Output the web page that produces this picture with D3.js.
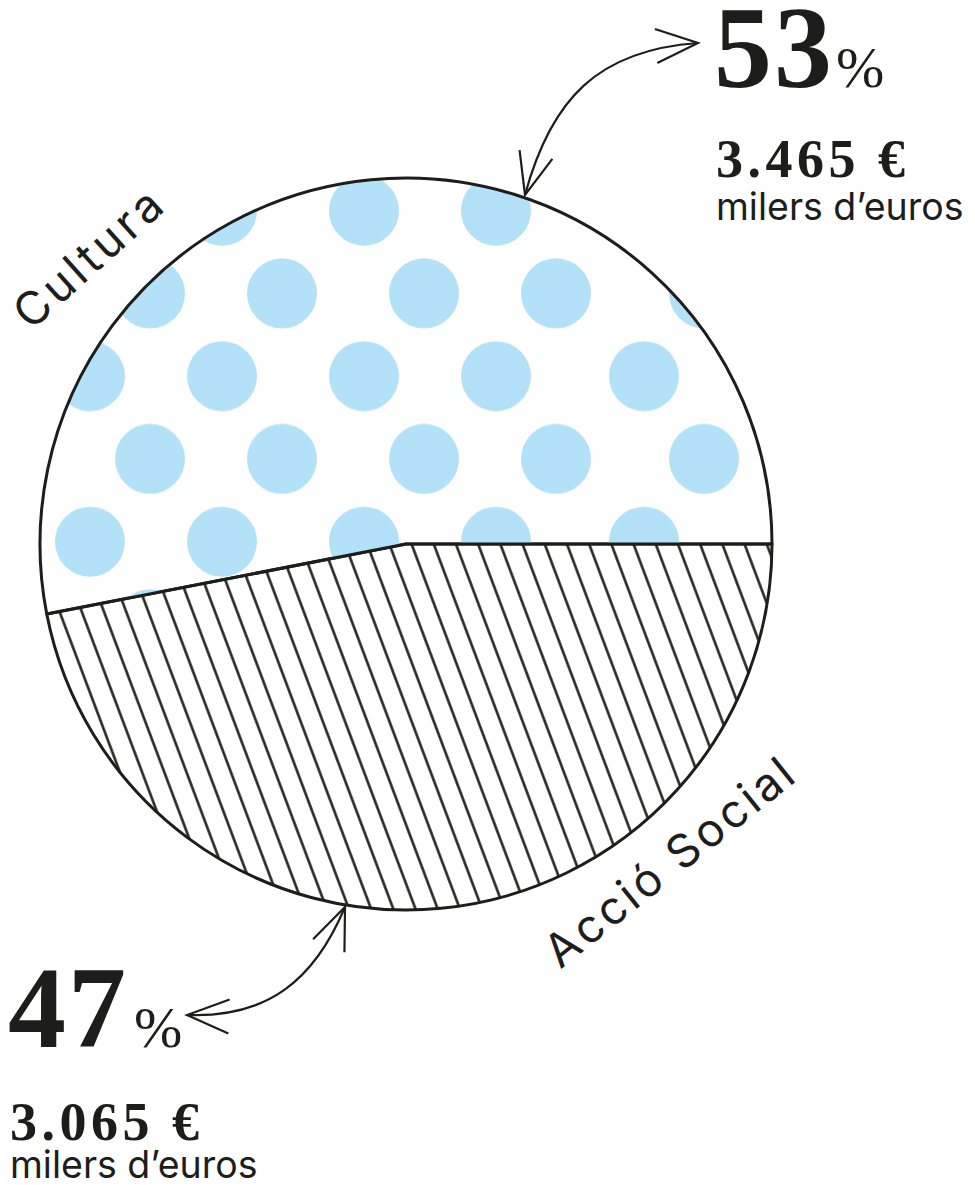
<!DOCTYPE html>
<html>
<head>
<meta charset="utf-8">
<script src="https://cdn.jsdelivr.net/npm/d3@7"></script>
<style>
    body { margin: 0; background: #fff; }
    .label { font-family: Inter, "Noto Sans", sans-serif; fill: #1d1d1b; }
    .big { font-family: "Liberation Serif", serif; font-weight: bold; fill: #1d1d1b; }
    .pct { font-family: "Liberation Serif", serif; fill: #1d1d1b; }
</style>
</head>
<body>
<script>
//chart data
var categories = ["Cultura", "Acció Social"];
var amounts = [3465, 3065]; //milers d'euros
var percents = [53, 47];
var amountLabels = ["3.465 €", "3.065 €"];
var unitLabel = "milers d’euros";

var w = 975, h = 1185;
var cx = 406, cy = 544, r = 366;
var ink = "#1d1d1b";

var svg = d3.select("body")
    .append("svg")
    .attr("width", w)
    .attr("height", h);

var defs = svg.append("defs");

//dot pattern for Cultura (coords are in the slice group's space, so shift by the centre)
//one wide tile, two staggered rows of dots, repeated vertically
var dotCols = [0, 132, 274, 406, 554];
var dotRows = [{y: 41.4, dx: 40}, {y: 124.1, dx: 100}];
var dotPts = [];
dotRows.forEach(function(row){
    dotCols.forEach(function(c){ dotPts.push([c + row.dx, row.y]); });
});

var dots = defs.append("pattern")
    .attr("id", "dots")
    .attr("patternUnits", "userSpaceOnUse")
    .attr("x", 50 - cx)
    .attr("y", 169.3 - cy)
    .attr("width", 800)
    .attr("height", 165.5);

dots.selectAll("circle")
    .data(dotPts)
    .enter()
    .append("circle")
    .attr("cx", function(d){ return d[0]; })
    .attr("cy", function(d){ return d[1]; })
    .attr("r", 35)
    .style("fill", "#b3e1f8");

//hatch pattern for Acció Social
var hw = 20.78;
var hatch = defs.append("pattern")
    .attr("id", "hatch")
    .attr("patternUnits", "userSpaceOnUse")
    .attr("width", hw)
    .attr("height", 10)
    .attr("patternTransform", "translate(" + (600.6 - cx) + "," + (545 - cy) + ") rotate(-20.6)");

hatch.append("line")
    .attr("x1", hw / 2)
    .attr("x2", hw / 2)
    .attr("y1", -1)
    .attr("y2", 11)
    .style("stroke", ink)
    .style("stroke-width", 2.5);

//pie, Acció Social first so it runs clockwise from 3 o'clock
var pie = d3.pie()
    .sort(null)
    .value(function(i){ return amounts[i]; })
    .startAngle(Math.PI / 2)
    .endAngle(Math.PI * 2.5);

var arc = d3.arc()
    .innerRadius(0)
    .outerRadius(r);

var slices = svg.append("g")
    .attr("class", "slices")
    .attr("transform", "translate(" + cx + "," + cy + ")")
    .selectAll("path")
    .data(pie([1, 0]))
    .enter()
    .append("path")
    .attr("d", arc)
    .style("fill", function(d){ return d.data === 0 ? "url(#dots)" : "url(#hatch)"; })
    .style("stroke", ink)
    .style("stroke-width", 3)
    .style("stroke-linejoin", "round");

//category labels
var labelPos = [
    {x: 89, y: 257, rot: -42, ls: 4},
    {x: 670, y: 861, rot: -38.6, ls: 3.3}
];

svg.selectAll(".catLabel")
    .data(categories)
    .enter()
    .append("text")
    .attr("class", "label catLabel")
    .attr("text-anchor", "middle")
    .attr("transform", function(d, i){
        return "translate(" + labelPos[i].x + "," + labelPos[i].y + ") rotate(" + labelPos[i].rot + ")";
    })
    .attr("dy", "0.36em")
    .style("font-size", "46px")
    .style("letter-spacing", function(d, i){ return labelPos[i].ls + "px"; })
    .text(function(d){ return d; });

//arrows
var marker = defs.append("marker")
    .attr("id", "head")
    .attr("markerUnits", "userSpaceOnUse")
    .attr("orient", "auto-start-reverse")
    .attr("overflow", "visible")
    .attr("markerWidth", 1)
    .attr("markerHeight", 1)
    .attr("refX", 0)
    .attr("refY", 0);

marker.append("path")
    .attr("d", "M-42,-17L0,0L-42,17")
    .style("fill", "none")
    .style("stroke", ink)
    .style("stroke-width", 2.2);

var arrows = [
    "M525,195C551,99 598,50 698,43",
    "M345,907C314,981 267,1018 187,1015"
];

svg.selectAll(".arrow")
    .data(arrows)
    .enter()
    .append("path")
    .attr("class", "arrow")
    .attr("d", function(d){ return d; })
    .attr("marker-start", "url(#head)")
    .attr("marker-end", "url(#head)")
    .style("fill", "none")
    .style("stroke", ink)
    .style("stroke-width", 2.2);

//value blocks
var blocks = [
    {x: 714, y: 87, px: 836},
    {x: 8, y: 1047, px: 134}
];

blocks.forEach(function(b, i){
    svg.append("text")
        .attr("class", "big")
        .attr("x", b.x)
        .attr("y", b.y)
        .style("font-size", "116px")
        .style("letter-spacing", "2px")
        .text(percents[i]);

    svg.append("text")
        .attr("class", "pct")
        .attr("x", b.px)
        .attr("y", b.y)
        .style("font-size", "58px")
        .text("%");

    svg.append("text")
        .attr("class", "big")
        .attr("x", b.x + 2)
        .attr("y", b.y + (i === 0 ? 90 : 93))
        .style("font-size", "54px")
        .style("letter-spacing", "4.5px")
        .text(amountLabels[i]);

    svg.append("text")
        .attr("class", "label")
        .attr("x", b.x + 2)
        .attr("y", b.y + (i === 0 ? 133 : 131))
        .style("font-size", "37.5px")
        .text(unitLabel);
});
</script>
</body>
</html>
